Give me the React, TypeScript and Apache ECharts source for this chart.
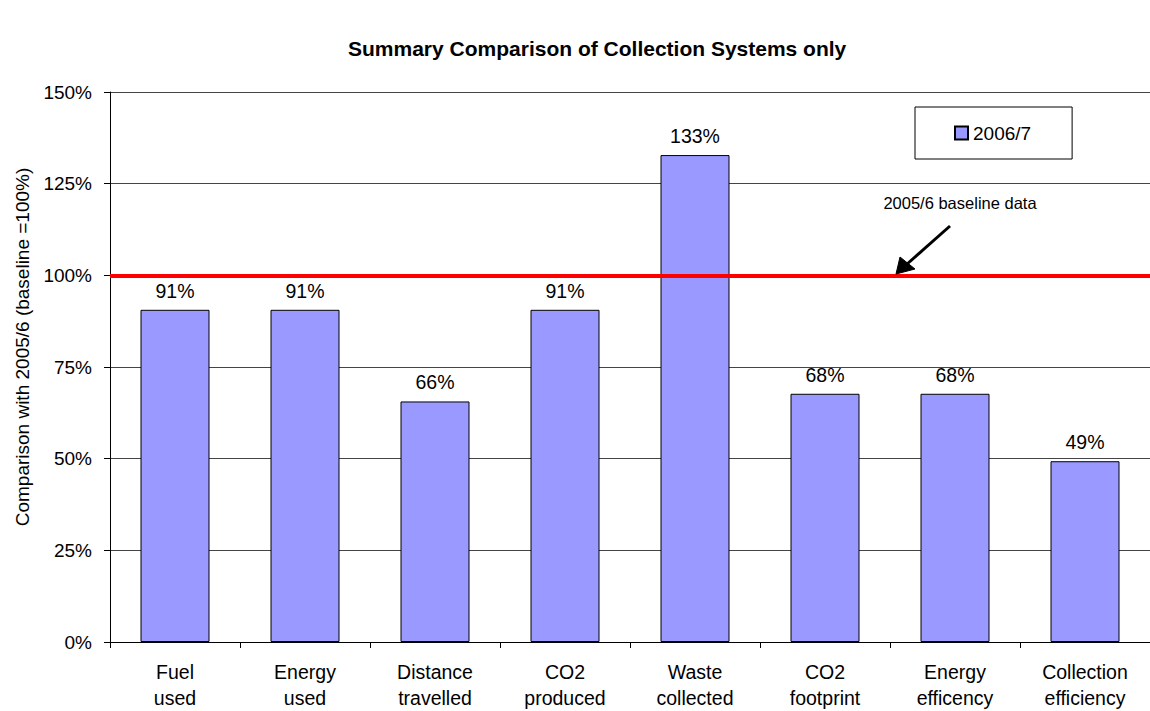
import React, { useEffect, useRef } from "react";
import * as echarts from "echarts";

const categories = [
  "Fuel\nused",
  "Energy\nused",
  "Distance\ntravelled",
  "CO2\nproduced",
  "Waste\ncollected",
  "CO2\nfootprint",
  "Energy\nefficency",
  "Collection\nefficiency",
];
const values2006_7 = [90.6, 90.6, 65.6, 90.6, 132.8, 67.7, 67.7, 49.3];
const baselineValue = 100;
const seriesName = "2006/7";
const titleText = "Summary Comparison of Collection Systems only";
const yAxisTitle = "Comparison with 2005/6 (baseline =100%)";
const annotationText = "2005/6 baseline data";

const FONT = "'Liberation Sans', Arial, Helvetica, sans-serif";

export default function App() {
  const ref = useRef<HTMLDivElement>(null);
  useEffect(() => {
    if (!ref.current) return;
    const chart = echarts.init(ref.current, undefined, { renderer: "svg" });
    chart.setOption({
      animation: false,
      backgroundColor: "#ffffff",
      textStyle: { fontFamily: FONT, color: "#000" },
      title: {
        text: titleText,
        left: 343,
        top: 33,
        textStyle: { fontFamily: FONT, fontSize: 21, fontWeight: "bold", color: "#000" },
      },
      legend: {
        left: 915,
        top: 107,
        orient: "horizontal",
        padding: [16, 41, 16, 39],
        borderColor: "#000",
        borderWidth: 1,
        itemWidth: 13,
        itemHeight: 13,
        icon: "rect",
        textStyle: { fontFamily: FONT, fontSize: 19, color: "#000", lineHeight: 20 },
        data: [seriesName],
      },
      grid: { left: 110, top: 92, width: 1045, height: 553, containLabel: false },
      xAxis: {
        type: "category",
        data: categories,
        boundaryGap: true,
        axisLine: { show: true, lineStyle: { color: "#000", width: 1 } },
        axisTick: { show: true, length: 6, alignWithLabel: false, lineStyle: { color: "#000" } },
        axisLabel: {
          fontFamily: FONT,
          fontSize: 19.5,
          color: "#000",
          lineHeight: 26,
          margin: 17,
          interval: 0,
        },
        splitLine: { show: false },
      },
      yAxis: {
        type: "value",
        min: 0,
        max: 150,
        interval: 25,
        axisLine: { show: true, lineStyle: { color: "#000", width: 1 } },
        axisTick: { show: true, length: 6, lineStyle: { color: "#000" } },
        axisLabel: {
          formatter: "{value}%",
          fontFamily: FONT,
          fontSize: 19,
          color: "#000",
          margin: 18,
        },
        splitLine: { show: true, lineStyle: { color: "#444", width: 1 } },
      },
      series: [
        {
          name: seriesName,
          type: "bar",
          data: values2006_7,
          barWidth: 69,
          itemStyle: { color: "#9999FF", borderColor: "#000", borderWidth: 1 },
          label: {
            show: true,
            position: "top",
            distance: 9,
            fontFamily: FONT,
            fontSize: 19.5,
            color: "#000",
            formatter: (p: any) => Math.round(p.value) + "%",
          },
          markLine: {
            silent: true,
            symbol: ["none", "none"],
            label: { show: false },
            lineStyle: { color: "#FF0000", width: 4, type: "solid" },
            data: [{ yAxis: baselineValue }],
            z: 10,
          },
        },
      ],
      graphic: [
        {
          type: "text",
          x: 22,
          y: 347,
          rotation: Math.PI / 2,
          style: {
            text: yAxisTitle,
            fontFamily: FONT,
            fontSize: 19,
            fill: "#000",
            textAlign: "center",
            textVerticalAlign: "middle",
          },
        },
        {
          type: "text",
          x: 960,
          y: 203,
          style: {
            text: annotationText,
            fontFamily: FONT,
            fontSize: 16.5,
            fill: "#000",
            textAlign: "center",
            textVerticalAlign: "middle",
          },
        },
        {
          type: "line",
          shape: { x1: 950, y1: 226, x2: 906, y2: 265 },
          style: { stroke: "#000", lineWidth: 3 },
          z: 20,
        },
        {
          type: "polygon",
          shape: { points: [[896, 274], [900, 257], [915, 269]] },
          style: { fill: "#000", stroke: "#000", lineWidth: 1 },
          z: 20,
        },
      ],
    });
    return () => chart.dispose();
  }, []);
  return (
    <div
      ref={ref}
      style={{ position: "absolute", left: 0, top: 0, width: 1150, height: 711, background: "#fff" }}
    />
  );
}
